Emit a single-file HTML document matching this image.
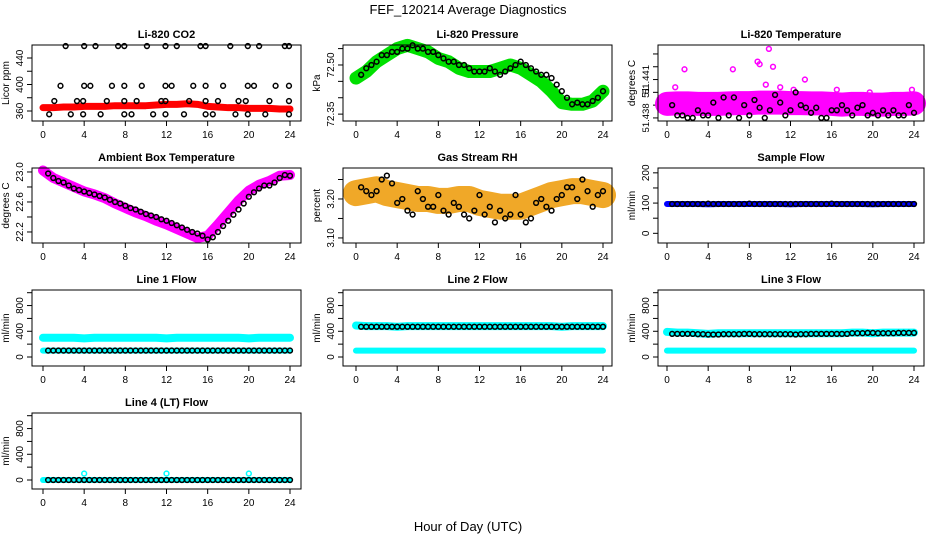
<!DOCTYPE html>
<html><head><meta charset="utf-8"><style>
body{margin:0;background:#fff}
svg{display:block;font-family:"Liberation Sans",Arial,sans-serif}
</style></head><body>
<svg id="chart" width="936" height="540" viewBox="0 0 936 540" xmlns="http://www.w3.org/2000/svg">
<rect width="936" height="540" fill="#fff"/>
<text x="468" y="14" font-size="13" text-anchor="middle">FEF_120214  Average Diagnostics</text>
<text x="468" y="531" font-size="13" text-anchor="middle">Hour of Day (UTC)</text>
</svg>
<script>
// ---- data ----
const hours = [0,1,2,3,4,5,6,7,8,9,10,11,12,13,14,15,16,17,18,19,20,21,22,23,24];
const halfHours = [0.5,1,1.5,2,2.5,3,3.5,4,4.5,5,5.5,6,6.5,7,7.5,8,8.5,9,9.5,10,10.5,11,11.5,12,12.5,13,13.5,14,14.5,15,15.5,16,16.5,17,17.5,18,18.5,19,19.5,20,20.5,21,21.5,22,22.5,23,23.5,24];
const xTicks = [0,4,8,12,16,20,24];

const co2Band = [365,365,366,366,367,367,367,368,368,368,368,369,370,370,371,370,367,366,365,365,364,364,364,363,363];
const co2BlackX = [2.2,4,5.1,7.3,7.9,10.1,11.9,13,15.3,15.8,18.2,19.9,21,23.5,23.9, 1.7,4,4.6,6.7,7.9,9.6,11.9,12.5,14.6,15.8,17.5,19.9,20.5,22.6,23.9, 1.1,3.3,3.9,6.2,7.9,9.1,11.5,11.9,14.2,15.8,17,19,19.7,22,23.9, 0.6,2.7,3.9,5.6,7.9,8.6,10.7,11.9,13.7,15.8,16.5,18.7,19.9,21.6,23.9];
const co2BlackY = [458,458,458,458,458,458,458,458,458,458,458,458,458,458,458, 398,398,398,398,398,398,398,398,398,398,398,398,398,398,398, 375,375,375,375,375,375,375,375,375,375,375,375,375,375,375, 355,355,355,355,355,355,355,355,355,355,355,355,355,355,355];
const co2Ticks = [360,380,400,420,440];
const co2Labels = ["360","","400","","440"];

const presBand = [72.46,72.48,72.51,72.53,72.55,72.56,72.55,72.54,72.52,72.51,72.49,72.48,72.48,72.48,72.49,72.50,72.49,72.47,72.45,72.42,72.385,72.38,72.38,72.39,72.42];
const presBlack = [72.47,72.49,72.50,72.51,72.53,72.53,72.54,72.54,72.55,72.55,72.56,72.55,72.55,72.54,72.54,72.53,72.52,72.51,72.51,72.50,72.50,72.49,72.48,72.48,72.48,72.49,72.48,72.47,72.48,72.49,72.50,72.51,72.50,72.49,72.48,72.47,72.47,72.46,72.44,72.42,72.40,72.38,72.385,72.38,72.38,72.39,72.40,72.42];
const presTicks = [72.35,72.40,72.45,72.50,72.55];
const presLabels = ["72.35","","","72.50",""];

const ltBand = [51.43855,51.43857,51.43857,51.43855,51.43855,51.43855,51.43857,51.43858,51.43858,51.4386,51.4386,51.4386,51.43858,51.43858,51.43857,51.43857,51.43855,51.43852,51.43855,51.43855,51.43852,51.43852,51.43855,51.43855,51.43857];
const ltBlack = [51.4385,51.4381,51.4381,51.4380,51.4380,51.4383,51.4381,51.4381,51.4386,51.4380,51.4388,51.4381,51.4388,51.4380,51.4385,51.4381,51.4387,51.4384,51.4380,51.4383,51.4389,51.4386,51.4381,51.4383,51.4390,51.4385,51.4384,51.4382,51.4384,51.4380,51.4380,51.4383,51.4383,51.4385,51.4383,51.4381,51.4384,51.4385,51.4381,51.4382,51.4381,51.4383,51.4381,51.4383,51.4381,51.4381,51.4385,51.4382];
const ltOutX = [0.8,1.7,6.4,8.8,9.0,9.9,10.3,9.6,11,13.4,12.3,16.5,19.7,23.8];
const ltOutY = [51.4392,51.4399,51.4399,51.4402,51.4401,51.4407,51.4400,51.4393,51.4392,51.4395,51.4391,51.4391,51.4390,51.4391];
const ltTicks = [51.4380,51.4385,51.4390,51.4395,51.4400,51.4405];
const ltLabels = ["51.438","","51","51.441","",""];

const ambBand = [23.02,22.92,22.86,22.80,22.74,22.70,22.65,22.58,22.52,22.46,22.41,22.35,22.30,22.24,22.18,22.12,22.15,22.30,22.46,22.62,22.75,22.83,22.88,22.95,22.96];
const ambBlack = [22.98,22.92,22.88,22.86,22.82,22.78,22.76,22.74,22.72,22.70,22.68,22.66,22.63,22.60,22.58,22.55,22.52,22.50,22.47,22.44,22.42,22.40,22.37,22.35,22.32,22.29,22.26,22.23,22.20,22.18,22.15,22.10,22.13,22.20,22.28,22.35,22.43,22.50,22.58,22.67,22.73,22.78,22.82,22.82,22.86,22.92,22.96,22.95];
const ambTicks = [22.2,22.4,22.6,22.8,23.0];
const ambLabels = ["22.2","","22.6","","23.0"];

const rhBand = [3.215,3.22,3.225,3.215,3.21,3.205,3.20,3.20,3.195,3.195,3.20,3.20,3.19,3.185,3.18,3.18,3.18,3.19,3.20,3.21,3.215,3.22,3.22,3.215,3.21];
const rhBlack = [3.23,3.22,3.21,3.22,3.25,3.26,3.24,3.19,3.20,3.17,3.16,3.22,3.20,3.18,3.18,3.21,3.17,3.16,3.19,3.18,3.16,3.15,3.17,3.21,3.16,3.18,3.14,3.17,3.15,3.16,3.21,3.16,3.14,3.15,3.19,3.20,3.18,3.17,3.20,3.21,3.23,3.23,3.20,3.25,3.22,3.18,3.21,3.22];
const rhTicks = [3.10,3.15,3.20,3.25];
const rhLabels = ["3.10","","3.20",""];

const sfBand = [97,97,97,97,96,97,97,97,97,97,97,97,96,97,97,97,97,97,97,97,96,97,97,97,97];
const sfBlack = [97,97,97,97,97,97,97,98,97,97,97,97,97,97,97,98,97,97,97,97,97,97,97,97,97,97,97,97,97,97,97,98,97,97,97,97,97,97,97,97,97,97,97,97,97,97,97,97];
const sfTicks = [0,50,100,150,200];
const sfLabels = ["0","","100","","200"];

const flowTicks = [0,200,400,600,800,1000];
const flowLabels = ["0","","400","","800",""];
const l1High = [300,300,300,300,290,300,300,300,300,300,300,300,290,300,300,300,300,300,300,300,290,300,300,300,300];
const l1Low = [100,100,100,100,100,100,100,100,100,100,100,100,100,100,100,100,100,100,100,100,100,100,100,100,100];
const l1Black = [100,100,100,100,100,100,100,100,100,100,100,100,100,100,100,100,100,100,100,100,100,100,100,100,100,100,100,100,100,100,100,100,100,100,100,100,100,100,100,100,100,100,100,100,100,100,100,100];
const l2High = [490,480,480,480,470,480,480,480,480,480,480,480,480,480,480,480,480,480,480,480,470,480,480,480,480];
const l2Low = l1Low;
const l2Black = [470,470,470,470,470,470,470,470,470,470,470,470,470,470,470,470,470,470,470,470,470,470,470,470,470,470,470,470,470,470,470,470,470,470,470,470,470,470,470,470,470,470,470,470,470,470,470,470];
const l3High = [390,380,380,370,360,370,370,370,370,370,370,370,370,370,370,370,370,370,380,380,370,380,380,380,380];
const l3Low = l1Low;
const l3Black = [360,360,360,360,360,355,355,350,350,350,355,355,355,355,360,360,355,355,355,355,355,355,355,355,350,355,355,360,360,360,360,360,360,360,360,370,370,370,375,375,370,370,370,370,375,375,375,375];
const l4Band = [0,0,0,0,0,0,0,0,0,0,0,0,0,0,0,0,0,0,0,0,0,0,0,0,0];
const l4OutX = [4,12,20];
const l4OutY = [100,100,100];
const l4Black = [0,0,0,0,0,0,0,0,0,0,0,0,0,0,0,0,0,0,0,0,0,0,0,0,0,0,0,0,0,0,0,0,0,0,0,0,0,0,0,0,0,0,0,0,0,0,0,0];

// ---- drawing ----
const svg = document.getElementById('chart');
const NS = 'http://www.w3.org/2000/svg';
const colL = [32,343,658], colR = [301,612,924], colX0 = [43,356,667], colX24 = [290,603,914];
const rowT = [45,168,290,413], rowB = [121,243,366,489];
function mk(tag, attrs, parent){const e=document.createElementNS(NS,tag);for(const k in attrs)e.setAttribute(k,attrs[k]);(parent||svg).appendChild(e);return e;}

function panel(name, title, ylab, r, c, ylim, ticks, labels){
  const g = mk('g',{});
  
  
  const L=colL[c],R=colR[c],T=rowT[r],B=rowB[r];
  const xs = v => colX0[c] + (colX24[c]-colX0[c])*v/24;
  const ys = v => B - (B-T)*(v-ylim[0])/(ylim[1]-ylim[0]);
  const t = mk('text',{x:(L+R)/2,y:T-7,'font-size':11,'font-weight':'bold','text-anchor':'middle'},g);
  t.textContent = title;
  
  
  const yl = mk('text',{x:0,y:0,'font-size':10,'text-anchor':'middle',transform:`translate(${L-23},${(T+B)/2}) rotate(-90)`},g);
  yl.textContent = ylab;
  
  
  mk('line',{x1:xs(xTicks[0]),x2:xs(xTicks[xTicks.length-1]),y1:B,y2:B,stroke:'#000'},g);
  xTicks.forEach(v=>{
    mk('line',{x1:xs(v),x2:xs(v),y1:B,y2:B+5,stroke:'#000'},g);
    const tx = mk('text',{x:xs(v),y:B+17,'font-size':10,'text-anchor':'middle'},g);
    tx.textContent = v;
  });
  mk('line',{x1:L,x2:L,y1:ys(ticks[0]),y2:ys(ticks[ticks.length-1]),stroke:'#000'},g);
  ticks.forEach((v,i)=>{
    mk('line',{x1:L-5,x2:L,y1:ys(v),y2:ys(v),stroke:'#000'},g);
    if(labels[i]){
      const ty = mk('text',{x:0,y:0,'font-size':(labels[i].length>5?9.5:10),'text-anchor':'middle',transform:`translate(${L-9},${ys(v)}) rotate(-90)`},g);
      ty.textContent = labels[i];
    }
  });
  const plot = mk('g',{},g);
  mk('rect',{x:L,y:T,width:R-L,height:B-T,fill:'none',stroke:'#000'},g);
  return {g:plot,xs,ys};
}
function band(p, xArr, yArr, color, w, name){
  const pl = mk('polyline',{points:xArr.map((x,i)=>p.xs(x)+','+p.ys(yArr[i])).join(' '),fill:'none',stroke:color,'stroke-width':w,'stroke-linejoin':'round','stroke-linecap':'round'},p.g);
  
  
}
function pts(p, xArr, yArr, color, name, r){
  xArr.forEach((x,i)=>{
    const c = mk('circle',{cx:p.xs(x),cy:p.ys(yArr[i]),r:r||2.4,fill:'none',stroke:color,'stroke-width':1.5},p.g);
    
    
  });
}

let p;
p = panel('co2-panel','Li-820 CO2','Licor ppm',0,0,[344.9,459.6],co2Ticks,co2Labels);
band(p,hours,co2Band,'#ff0000',7,'co2-band');
pts(p,co2BlackX,co2BlackY,'#000','co2-point');

p = panel('pressure-panel','Li-820 Pressure','kPa',0,1,[72.329,72.561],presTicks,presLabels);
band(p,hours,presBand,'#00e000',13,'pressure-band');
pts(p,halfHours,presBlack,'#000','pressure-point');

p = panel('li-temp-panel','Li-820 Temperature','degrees C',0,2,[51.43788,51.44085],ltTicks,ltLabels);
band(p,hours,ltBand,'#ff00ff',24,'li-temp-band');
pts(p,ltOutX,ltOutY,'#ff00ff','li-temp-outlier');
pts(p,halfHours,ltBlack,'#000','li-temp-point');

p = panel('ambient-panel','Ambient Box Temperature','degrees C',1,0,[22.053,23.053],ambTicks,ambLabels);
band(p,hours,ambBand,'#ff00ff',10,'ambient-band');
pts(p,halfHours,ambBlack,'#000','ambient-point');

p = panel('rh-panel','Gas Stream RH','percent',1,1,[3.087,3.2795],rhTicks,rhLabels);
band(p,hours,rhBand,'#f0a828',26,'rh-band');
pts(p,halfHours,rhBlack,'#000','rh-point');

p = panel('sample-flow-panel','Sample Flow','ml/min',1,2,[-32,216],sfTicks,sfLabels);
band(p,hours,sfBand,'#0000ff',6,'sample-flow-band');
pts(p,halfHours,sfBlack,'#000','sample-flow-point');

p = panel('line1-panel','Line 1 Flow','ml/min',2,0,[-140,1042],flowTicks,flowLabels);
band(p,hours,l1High,'#00ffff',8,'line1-high-band');
band(p,hours,l1Low,'#00ffff',6,'line1-low-band');
pts(p,halfHours,l1Black,'#000','line1-point');

p = panel('line2-panel','Line 2 Flow','ml/min',2,1,[-140,1042],flowTicks,flowLabels);
band(p,hours,l2High,'#00ffff',8,'line2-high-band');
band(p,hours,l2Low,'#00ffff',6,'line2-low-band');
pts(p,halfHours,l2Black,'#000','line2-point');

p = panel('line3-panel','Line 3 Flow','ml/min',2,2,[-140,1042],flowTicks,flowLabels);
band(p,hours,l3High,'#00ffff',8,'line3-high-band');
band(p,hours,l3Low,'#00ffff',6,'line3-low-band');
pts(p,halfHours,l3Black,'#000','line3-point');

p = panel('line4-panel','Line 4 (LT) Flow','ml/min',3,0,[-140,1042],flowTicks,flowLabels);
band(p,hours,l4Band,'#00ffff',6,'line4-band');
pts(p,l4OutX,l4OutY,'#00ffff','line4-outlier');
pts(p,halfHours,l4Black,'#000','line4-point');
</script>
</body></html>
